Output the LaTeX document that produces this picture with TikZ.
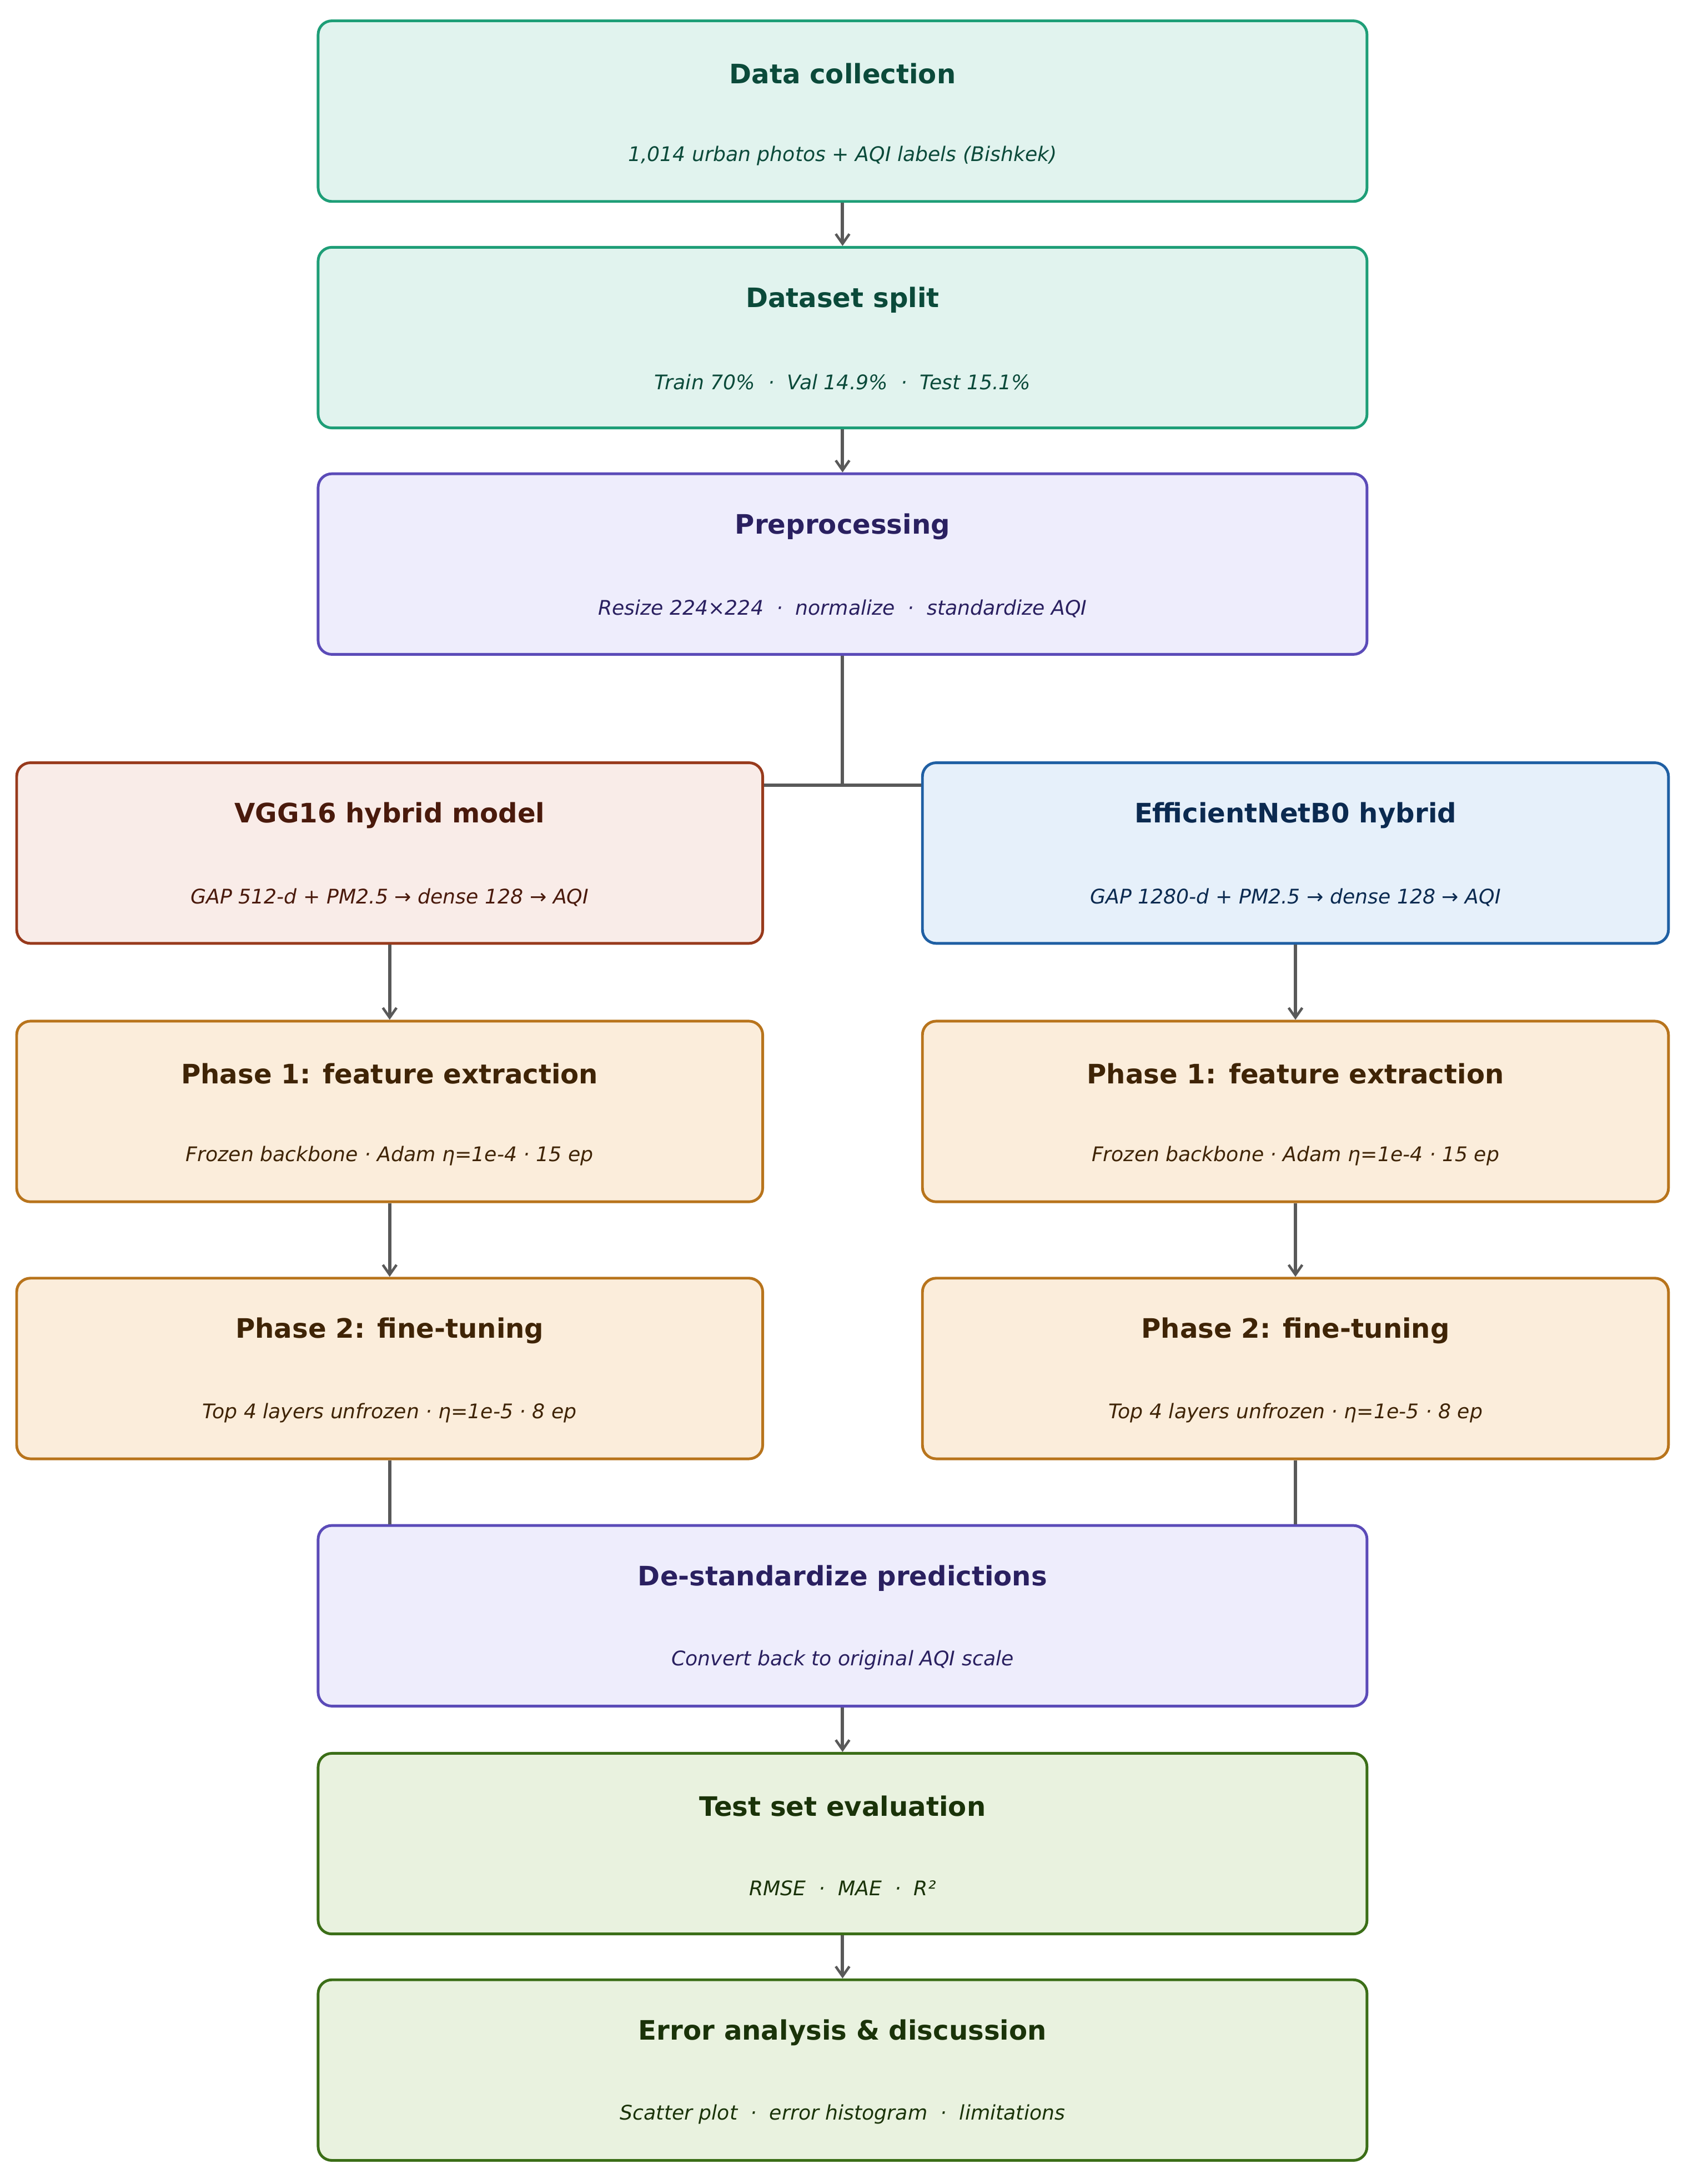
\documentclass[tikz,border=0pt]{standalone}
\usepackage{fontspec}
\setmainfont{DejaVu Sans}
\usetikzlibrary{arrows.meta}
\definecolor{gB}{HTML}{1E9E77}\definecolor{gF}{HTML}{E1F3EE}\definecolor{gT}{HTML}{0B4A3A}
\definecolor{pB}{HTML}{5B4BB8}\definecolor{pF}{HTML}{EEEDFC}\definecolor{pT}{HTML}{2A2060}
\definecolor{vB}{HTML}{983A1C}\definecolor{vF}{HTML}{F9ECE8}\definecolor{vT}{HTML}{4A1A0C}
\definecolor{eB}{HTML}{1F5FA3}\definecolor{eF}{HTML}{E6F0FA}\definecolor{eT}{HTML}{0B2A50}
\definecolor{oB}{HTML}{B8741C}\definecolor{oF}{HTML}{FBEDDB}\definecolor{oT}{HTML}{3F2406}
\definecolor{lB}{HTML}{3B6E17}\definecolor{lF}{HTML}{E9F2DF}\definecolor{lT}{HTML}{1A3309}
\definecolor{ar}{HTML}{595959}
\tikzset{
 box/.style={draw=#1B,fill=#1F,line width=1.4pt,rounded corners=7pt,inner sep=0pt},
 wide/.style={minimum width=755*0.025cm,minimum height=130*0.025cm},
 half/.style={minimum width=537*0.025cm,minimum height=130*0.025cm},
 ttl/.style={text=#1T,font=\bfseries\fontsize{13.7}{15}\selectfont},
 sub/.style={text=#1T,font=\itshape\fontsize{10.3}{12}\selectfont},
 con/.style={draw=ar,line width=1.7pt},
 arr/.style={con,-{Straight Barb[length=5pt,width=7pt,line width=1.3pt]}},
}
\newcommand{\bx}[7]{% name, color, x, ytop, style, title, sub
 \node[box=#2,#5] (#1) at (#3,#4+65) {};
 \node[ttl=#2] (#1t) at (#3,#4+38) {#6};
 \node[sub=#2] (#1s) at (#3,#4+97) {#7};}
\begin{document}
\begin{tikzpicture}[x=0.025cm,y=-0.025cm]
\useasboundingbox (0,0) rectangle (1215,1572);
\bx{b1}{g}{606.5}{15}{wide}{Data collection}{1,014 urban photos + AQI labels (Bishkek)}
\bx{b2}{g}{606.5}{178}{wide}{Dataset split}{Train 70\%\ \ ·\ \ Val 14.9\%\ \ ·\ \ Test 15.1\%}
\bx{b3}{p}{606.5}{341}{wide}{Preprocessing}{Resize 224×224\ \ ·\ \ normalize\ \ ·\ \ standardize AQI}
\bx{v}{v}{280.5}{549}{half}{VGG16 hybrid model}{GAP 512-d + PM2.5 → dense 128 → AQI}
\bx{e}{e}{932.5}{549}{half}{EfficientNetB0 hybrid}{GAP 1280-d + PM2.5 → dense 128 → AQI}
\bx{v1}{o}{280.5}{735}{half}{Phase 1: feature extraction}{Frozen backbone · Adam η=1e-4 · 15 ep}
\bx{e1}{o}{932.5}{735}{half}{Phase 1: feature extraction}{Frozen backbone · Adam η=1e-4 · 15 ep}
\bx{v2}{o}{280.5}{920}{half}{Phase 2: fine-tuning}{Top 4 layers unfrozen · η=1e-5 · 8 ep}
\bx{e2}{o}{932.5}{920}{half}{Phase 2: fine-tuning}{Top 4 layers unfrozen · η=1e-5 · 8 ep}
\bx{d}{p}{606.5}{1098}{wide}{De-standardize predictions}{Convert back to original AQI scale}
\bx{t}{l}{606.5}{1262}{wide}{Test set evaluation}{RMSE\ \ ·\ \ MAE\ \ ·\ \ R²}
\bx{x}{l}{606.5}{1425}{wide}{Error analysis \& discussion}{Scatter plot\ \ ·\ \ error histogram\ \ ·\ \ limitations}
\coordinate (j) at (606.5,565);
\draw[arr] (b1.south) -- (b2.north);
\draw[arr] (b2.south) -- (b3.north);
\draw[con] (b3.south) -- (j);
\draw[con] (v.east|-j) -- (e.west|-j);
\draw[arr] (v.south) -- (v1.north);
\draw[arr] (e.south) -- (e1.north);
\draw[arr] (v1.south) -- (v2.north);
\draw[arr] (e1.south) -- (e2.north);
\draw[con] (v2.south) -- (v2.south|-d.north);
\draw[con] (e2.south) -- (e2.south|-d.north);
\draw[arr] (d.south) -- (t.north);
\draw[arr] (t.south) -- (x.north);
\end{tikzpicture}
\end{document}
